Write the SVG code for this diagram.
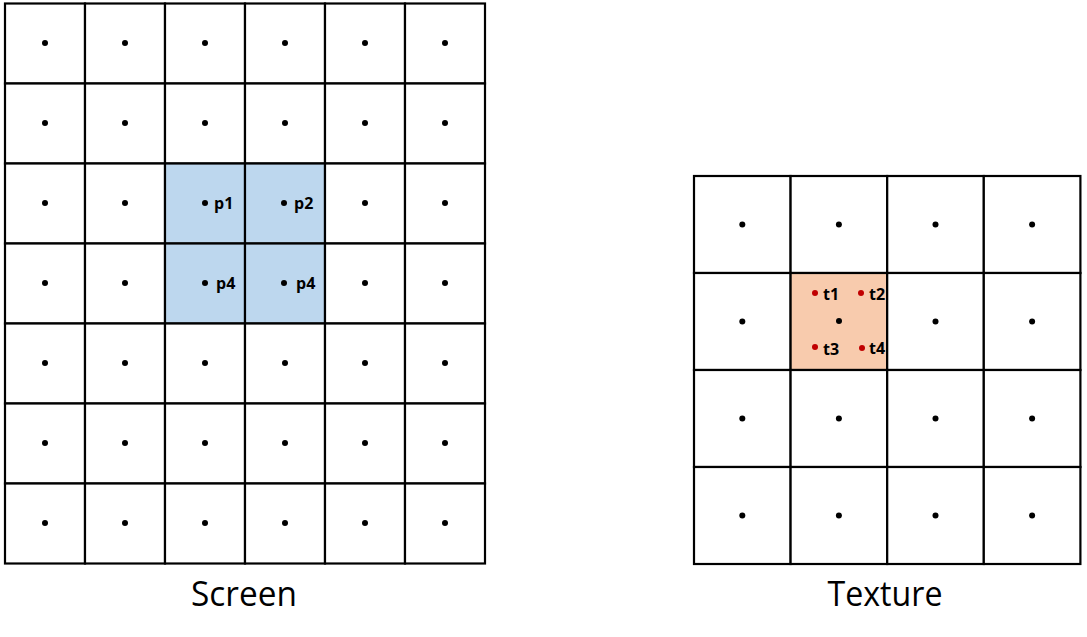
<svg xmlns="http://www.w3.org/2000/svg" width="1087" height="637" viewBox="0 0 1087 637">
<style>
.cell{fill:#ffffff;stroke:#000000;stroke-width:2.2}
.blue{fill:#bdd7ee}
.orange{fill:#f8cbad}
.dot{fill:#000000}
.rdot{fill:#c00000}
.lbl{font-family:"Open Sans","Liberation Sans",sans-serif;font-weight:bold;font-size:16px;fill:#000000}
.cap{font-family:"Open Sans","Liberation Sans",sans-serif;font-size:35px;fill:#000000}
</style>
<rect width="1087" height="637" fill="#ffffff"/>
<g id="screen">
<g id="s-r0c0"><rect class="cell" x="5" y="3.5" width="80" height="80"/><circle class="dot" cx="45" cy="43" r="3"/></g>
<g id="s-r0c1"><rect class="cell" x="85" y="3.5" width="80" height="80"/><circle class="dot" cx="125" cy="43" r="3"/></g>
<g id="s-r0c2"><rect class="cell" x="165" y="3.5" width="80" height="80"/><circle class="dot" cx="205" cy="43" r="3"/></g>
<g id="s-r0c3"><rect class="cell" x="245" y="3.5" width="80" height="80"/><circle class="dot" cx="285" cy="43" r="3"/></g>
<g id="s-r0c4"><rect class="cell" x="325" y="3.5" width="80" height="80"/><circle class="dot" cx="365" cy="43" r="3"/></g>
<g id="s-r0c5"><rect class="cell" x="405" y="3.5" width="80" height="80"/><circle class="dot" cx="445" cy="43" r="3"/></g>
<g id="s-r1c0"><rect class="cell" x="5" y="83.5" width="80" height="80"/><circle class="dot" cx="45" cy="123" r="3"/></g>
<g id="s-r1c1"><rect class="cell" x="85" y="83.5" width="80" height="80"/><circle class="dot" cx="125" cy="123" r="3"/></g>
<g id="s-r1c2"><rect class="cell" x="165" y="83.5" width="80" height="80"/><circle class="dot" cx="205" cy="123" r="3"/></g>
<g id="s-r1c3"><rect class="cell" x="245" y="83.5" width="80" height="80"/><circle class="dot" cx="285" cy="123" r="3"/></g>
<g id="s-r1c4"><rect class="cell" x="325" y="83.5" width="80" height="80"/><circle class="dot" cx="365" cy="123" r="3"/></g>
<g id="s-r1c5"><rect class="cell" x="405" y="83.5" width="80" height="80"/><circle class="dot" cx="445" cy="123" r="3"/></g>
<g id="s-r2c0"><rect class="cell" x="5" y="163.5" width="80" height="80"/><circle class="dot" cx="45" cy="203" r="3"/></g>
<g id="s-r2c1"><rect class="cell" x="85" y="163.5" width="80" height="80"/><circle class="dot" cx="125" cy="203" r="3"/></g>
<g id="s-p1"><rect class="cell blue" x="165" y="163.5" width="80" height="80"/><circle class="dot" cx="205" cy="203" r="3"/><text class="lbl" x="214" y="208.5">p1</text></g>
<g id="s-p2"><rect class="cell blue" x="245" y="163.5" width="80" height="80"/><circle class="dot" cx="284" cy="203" r="3"/><text class="lbl" x="294" y="208.5">p2</text></g>
<g id="s-r2c4"><rect class="cell" x="325" y="163.5" width="80" height="80"/><circle class="dot" cx="365" cy="203" r="3"/></g>
<g id="s-r2c5"><rect class="cell" x="405" y="163.5" width="80" height="80"/><circle class="dot" cx="445" cy="203" r="3"/></g>
<g id="s-r3c0"><rect class="cell" x="5" y="243.5" width="80" height="80"/><circle class="dot" cx="45" cy="283" r="3"/></g>
<g id="s-r3c1"><rect class="cell" x="85" y="243.5" width="80" height="80"/><circle class="dot" cx="125" cy="283" r="3"/></g>
<g id="s-p3"><rect class="cell blue" x="165" y="243.5" width="80" height="80"/><circle class="dot" cx="205" cy="283" r="3"/><text class="lbl" x="216" y="288.5">p4</text></g>
<g id="s-p4"><rect class="cell blue" x="245" y="243.5" width="80" height="80"/><circle class="dot" cx="284" cy="283" r="3"/><text class="lbl" x="296" y="288.5">p4</text></g>
<g id="s-r3c4"><rect class="cell" x="325" y="243.5" width="80" height="80"/><circle class="dot" cx="365" cy="283" r="3"/></g>
<g id="s-r3c5"><rect class="cell" x="405" y="243.5" width="80" height="80"/><circle class="dot" cx="445" cy="283" r="3"/></g>
<g id="s-r4c0"><rect class="cell" x="5" y="323.5" width="80" height="80"/><circle class="dot" cx="45" cy="363" r="3"/></g>
<g id="s-r4c1"><rect class="cell" x="85" y="323.5" width="80" height="80"/><circle class="dot" cx="125" cy="363" r="3"/></g>
<g id="s-r4c2"><rect class="cell" x="165" y="323.5" width="80" height="80"/><circle class="dot" cx="205" cy="363" r="3"/></g>
<g id="s-r4c3"><rect class="cell" x="245" y="323.5" width="80" height="80"/><circle class="dot" cx="285" cy="363" r="3"/></g>
<g id="s-r4c4"><rect class="cell" x="325" y="323.5" width="80" height="80"/><circle class="dot" cx="365" cy="363" r="3"/></g>
<g id="s-r4c5"><rect class="cell" x="405" y="323.5" width="80" height="80"/><circle class="dot" cx="445" cy="363" r="3"/></g>
<g id="s-r5c0"><rect class="cell" x="5" y="403.5" width="80" height="80"/><circle class="dot" cx="45" cy="443" r="3"/></g>
<g id="s-r5c1"><rect class="cell" x="85" y="403.5" width="80" height="80"/><circle class="dot" cx="125" cy="443" r="3"/></g>
<g id="s-r5c2"><rect class="cell" x="165" y="403.5" width="80" height="80"/><circle class="dot" cx="205" cy="443" r="3"/></g>
<g id="s-r5c3"><rect class="cell" x="245" y="403.5" width="80" height="80"/><circle class="dot" cx="285" cy="443" r="3"/></g>
<g id="s-r5c4"><rect class="cell" x="325" y="403.5" width="80" height="80"/><circle class="dot" cx="365" cy="443" r="3"/></g>
<g id="s-r5c5"><rect class="cell" x="405" y="403.5" width="80" height="80"/><circle class="dot" cx="445" cy="443" r="3"/></g>
<g id="s-r6c0"><rect class="cell" x="5" y="483.5" width="80" height="80"/><circle class="dot" cx="45" cy="523" r="3"/></g>
<g id="s-r6c1"><rect class="cell" x="85" y="483.5" width="80" height="80"/><circle class="dot" cx="125" cy="523" r="3"/></g>
<g id="s-r6c2"><rect class="cell" x="165" y="483.5" width="80" height="80"/><circle class="dot" cx="205" cy="523" r="3"/></g>
<g id="s-r6c3"><rect class="cell" x="245" y="483.5" width="80" height="80"/><circle class="dot" cx="285" cy="523" r="3"/></g>
<g id="s-r6c4"><rect class="cell" x="325" y="483.5" width="80" height="80"/><circle class="dot" cx="365" cy="523" r="3"/></g>
<g id="s-r6c5"><rect class="cell" x="405" y="483.5" width="80" height="80"/><circle class="dot" cx="445" cy="523" r="3"/></g>
<text id="screen-caption" class="cap" x="244" y="606" text-anchor="middle" textLength="106" lengthAdjust="spacingAndGlyphs">Screen</text>
</g>
<g id="texture">
<g id="t-r0c0"><rect class="cell" x="694" y="176" width="96.6" height="97"/><circle class="dot" cx="742.3" cy="224.5" r="3"/></g>
<g id="t-r0c1"><rect class="cell" x="790.6" y="176" width="96.6" height="97"/><circle class="dot" cx="838.9" cy="224.5" r="3"/></g>
<g id="t-r0c2"><rect class="cell" x="887.2" y="176" width="96.6" height="97"/><circle class="dot" cx="935.5" cy="224.5" r="3"/></g>
<g id="t-r0c3"><rect class="cell" x="983.8" y="176" width="96.6" height="97"/><circle class="dot" cx="1032.1" cy="224.5" r="3"/></g>
<g id="t-r1c0"><rect class="cell" x="694" y="273" width="96.6" height="97"/><circle class="dot" cx="742.3" cy="321.5" r="3"/></g>
<g id="t-r1c1"><rect class="cell orange" x="790.6" y="273" width="96.6" height="97"/><circle class="dot" cx="839" cy="321" r="3"/>
<circle class="rdot" cx="815" cy="293" r="3"/><text class="lbl" x="823" y="299.5">t1</text>
<circle class="rdot" cx="861" cy="293" r="3"/><text class="lbl" x="869" y="299.5">t2</text>
<circle class="rdot" cx="815" cy="347" r="3"/><text class="lbl" x="823" y="354.5">t3</text>
<circle class="rdot" cx="862" cy="348" r="3"/><text class="lbl" x="869" y="353.5">t4</text></g>
<g id="t-r1c2"><rect class="cell" x="887.2" y="273" width="96.6" height="97"/><circle class="dot" cx="935.5" cy="321.5" r="3"/></g>
<g id="t-r1c3"><rect class="cell" x="983.8" y="273" width="96.6" height="97"/><circle class="dot" cx="1032.1" cy="321.5" r="3"/></g>
<g id="t-r2c0"><rect class="cell" x="694" y="370" width="96.6" height="97"/><circle class="dot" cx="742.3" cy="418.5" r="3"/></g>
<g id="t-r2c1"><rect class="cell" x="790.6" y="370" width="96.6" height="97"/><circle class="dot" cx="838.9" cy="418.5" r="3"/></g>
<g id="t-r2c2"><rect class="cell" x="887.2" y="370" width="96.6" height="97"/><circle class="dot" cx="935.5" cy="418.5" r="3"/></g>
<g id="t-r2c3"><rect class="cell" x="983.8" y="370" width="96.6" height="97"/><circle class="dot" cx="1032.1" cy="418.5" r="3"/></g>
<g id="t-r3c0"><rect class="cell" x="694" y="467" width="96.6" height="97"/><circle class="dot" cx="742.3" cy="515.5" r="3"/></g>
<g id="t-r3c1"><rect class="cell" x="790.6" y="467" width="96.6" height="97"/><circle class="dot" cx="838.9" cy="515.5" r="3"/></g>
<g id="t-r3c2"><rect class="cell" x="887.2" y="467" width="96.6" height="97"/><circle class="dot" cx="935.5" cy="515.5" r="3"/></g>
<g id="t-r3c3"><rect class="cell" x="983.8" y="467" width="96.6" height="97"/><circle class="dot" cx="1032.1" cy="515.5" r="3"/></g>
<text id="texture-caption" class="cap" x="885" y="606" text-anchor="middle" textLength="115" lengthAdjust="spacingAndGlyphs">Texture</text>
</g>
</svg>
